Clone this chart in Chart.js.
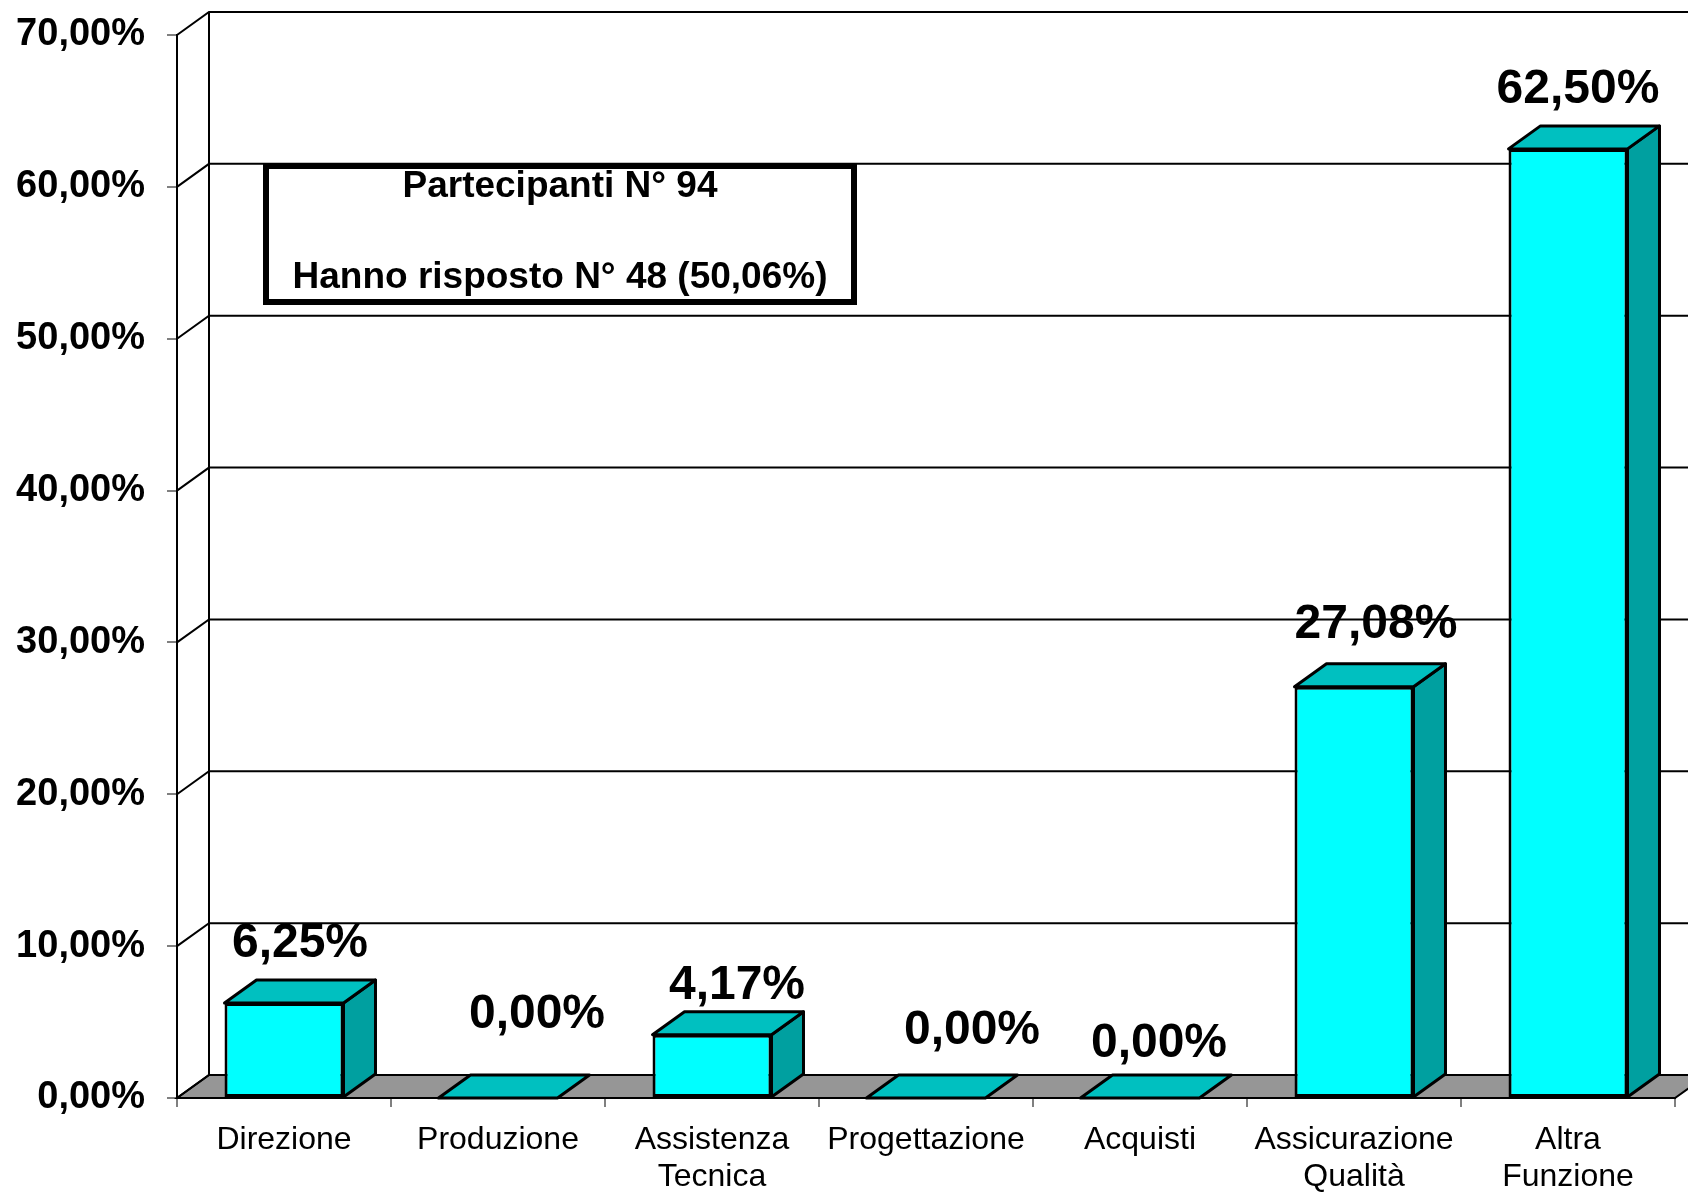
<!DOCTYPE html>
<html>
<head>
<meta charset="utf-8">
<script src="https://cdn.jsdelivr.net/npm/chart.js@4.4.1/dist/chart.umd.min.js"></script>
<style>
  html, body { margin: 0; padding: 0; background: #fff; }
</style>
</head>
<body>
<canvas id="chart" width="1688" height="1192"></canvas>
<script>
const categories = ['Direzione', 'Produzione', ['Assistenza', 'Tecnica'], 'Progettazione', 'Acquisti', ['Assicurazione', 'Qualità'], ['Altra', 'Funzione']];
const percentages = [6.25, 0, 4.17, 0, 0, 27.08, 62.5];
const yTicks = [0, 10, 20, 30, 40, 50, 60, 70];
const boxLines = ['Partecipanti N° 94', 'Hanno risposto N° 48 (50,06%)'];

// excel puts the 3d labels a bit off, nudge them (px)
const labelNudge = [[0, 0], [23, -24], [9, 10], [30, -8], [3, 5], [6, -3], [-6, 0]];

const DX = 32, DY = -23;   // depth of the 3d box
const FONT = '"Liberation Sans", Arial, sans-serif';

function pct(v) {
  return v.toFixed(2).replace('.', ',') + '%';
}

// back wall, side wall and floor
const walls = {
  id: 'walls',
  beforeDatasetsDraw(chart) {
    const ctx = chart.ctx, xs = chart.scales.x, ys = chart.scales.y;
    const left = xs.left, right = xs.right;
    const bottom = ys.getPixelForValue(0), top = ys.getPixelForValue(yTicks[yTicks.length - 1]);
    ctx.save();
    ctx.lineWidth = 2;
    ctx.strokeStyle = '#000';
    ctx.fillStyle = '#969696';
    ctx.beginPath();
    ctx.moveTo(left, bottom);
    ctx.lineTo(right, bottom);
    ctx.lineTo(right + DX, bottom + DY);
    ctx.lineTo(left + DX, bottom + DY);
    ctx.closePath();
    ctx.fill();
    ctx.stroke();
    yTicks.forEach(t => {
      const py = ys.getPixelForValue(t);
      ctx.beginPath();
      ctx.moveTo(left, py);
      ctx.lineTo(left + DX, py + DY);
      ctx.lineTo(right + DX, py + DY);
      ctx.stroke();
    });
    ctx.beginPath();
    ctx.moveTo(left + DX, top + DY);
    ctx.lineTo(left + DX, bottom + DY);
    ctx.stroke();
    ctx.restore();
  }
};

// top + side faces of each bar, then the value labels
const boxes = {
  id: 'boxes',
  afterDatasetsDraw(chart) {
    const ctx = chart.ctx;
    const bars = chart.getDatasetMeta(0).data;
    ctx.save();
    ctx.lineWidth = 3;
    ctx.lineJoin = 'round';
    ctx.strokeStyle = '#000';
    bars.forEach(b => {
      const x0 = b.x - b.width / 2, x1 = b.x + b.width / 2;
      const y = b.y, base = b.base;
      if (base - y > 0.5) {
        ctx.fillStyle = '#00A0A0';
        ctx.beginPath();
        ctx.moveTo(x1, y);
        ctx.lineTo(x1, base);
        ctx.lineTo(x1 + DX, base + DY);
        ctx.lineTo(x1 + DX, y + DY);
        ctx.closePath();
        ctx.fill();
        ctx.stroke();
      }
      ctx.fillStyle = '#00C0C0';
      ctx.beginPath();
      ctx.moveTo(x0, y);
      ctx.lineTo(x1, y);
      ctx.lineTo(x1 + DX, y + DY);
      ctx.lineTo(x0 + DX, y + DY);
      ctx.closePath();
      ctx.fill();
      ctx.stroke();
    });
    ctx.fillStyle = '#000';
    ctx.font = 'bold 48px ' + FONT;
    ctx.textAlign = 'center';
    ctx.textBaseline = 'middle';
    bars.forEach((b, i) => {
      const n = labelNudge[i];
      ctx.fillText(pct(percentages[i]), b.x + DX / 2 + n[0], b.y + DY - 36 + n[1]);
    });
    ctx.restore();
  }
};

// text box "Partecipanti"
const infoBox = {
  id: 'infoBox',
  afterDraw(chart) {
    const ctx = chart.ctx;
    ctx.save();
    ctx.fillStyle = '#fff';
    ctx.strokeStyle = '#000';
    ctx.lineWidth = 6;
    ctx.fillRect(266, 166, 588, 136);
    ctx.strokeRect(266, 166, 588, 136);
    ctx.fillStyle = '#000';
    ctx.font = 'bold 37px ' + FONT;
    ctx.textAlign = 'center';
    ctx.textBaseline = 'middle';
    ctx.fillText(boxLines[0], 560, 187);
    ctx.fillText(boxLines[1], 560, 278);
    ctx.restore();
  }
};

new Chart(document.getElementById('chart'), {
  type: 'bar',
  data: {
    labels: categories,
    datasets: [{
      data: percentages,
      backgroundColor: '#00FFFF',
      borderColor: '#000',
      borderWidth: 3,
      borderSkipped: false,
      categoryPercentage: 1,
      barPercentage: 0.556
    }]
  },
  options: {
    responsive: false,
    animation: false,
    devicePixelRatio: 1,
    layout: { padding: { top: 35, right: 13, left: 0, bottom: 0 } },
    plugins: { legend: { display: false }, tooltip: { enabled: false } },
    scales: {
      x: {
        ticks: { color: '#000', font: { family: FONT, size: 32, lineHeight: 1.15 }, padding: 15, autoSkip: false, maxRotation: 0 },
        grid: { offset: true, drawOnChartArea: false, tickLength: 9, color: '#808080', lineWidth: 2 },
        border: { display: true, color: '#000', width: 2 },
        afterFit: s => { s.height = 94; s.paddingLeft = 0; s.paddingRight = 0; }
      },
      y: {
        min: 0,
        max: 70,
        afterBuildTicks: s => { s.ticks = yTicks.map(v => ({ value: v })); },
        ticks: { color: '#000', font: { family: FONT, size: 38, weight: 'bold' }, padding: 22, callback: v => pct(v) },
        grid: { drawOnChartArea: false, tickLength: 10, color: '#808080', lineWidth: 2 },
        border: { display: true, color: '#000', width: 2 },
        afterFit: s => { s.width = 177; s.paddingTop = 0; s.paddingBottom = 0; }
      }
    }
  },
  plugins: [walls, boxes, infoBox]
});
</script>
</body>
</html>
